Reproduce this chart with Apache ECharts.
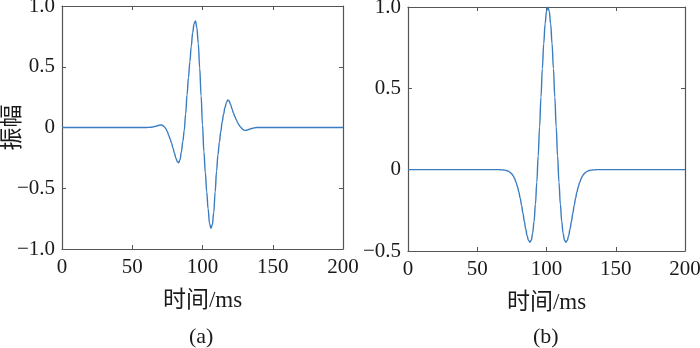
<!DOCTYPE html>
<html>
<head>
<meta charset="utf-8">
<script src="https://cdn.jsdelivr.net/npm/echarts@6/dist/echarts.min.js"></script>
<style>
  html, body { margin: 0; padding: 0; background: #fff; }
  #chart { width: 700px; height: 348px; }
</style>
</head>
<body>
<div id="chart"></div>
<script>
// (a) 子波
var timeA = [0,
  60, 61, 62, 63, 64, 65, 66, 67, 68, 69,
  70, 71, 72, 73, 74, 75, 76, 77, 78, 79,
  80, 81, 82, 83, 84, 85, 86, 87, 88, 89,
  90, 91, 92, 93, 94, 95, 96, 97, 98, 99,
  100, 101, 102, 103, 104, 105, 106, 107, 108, 109,
  110, 111, 112, 113, 114, 115, 116, 117, 118, 119,
  120, 121, 122, 123, 124, 125, 126, 127, 128, 129,
  130, 131, 132, 133, 134, 135, 136, 137, 138, 139,
  140, 200]
var ampA = [0,
  0, 0.001, 0.001, 0.002, 0.003, 0.005, 0.008, 0.011, 0.015, 0.018,
  0.020, 0.020, 0.014, 0.003, -0.012, -0.035, -0.065, -0.095, -0.130, -0.170,
  -0.210, -0.250, -0.280, -0.290, -0.265, -0.200, -0.115, -0.025, 0.110, 0.270,
  0.410, 0.540, 0.670, 0.780, 0.855, 0.876, 0.820, 0.690, 0.490, 0.260,
  0.020, -0.200, -0.370, -0.530, -0.670, -0.790, -0.830, -0.800, -0.700, -0.530,
  -0.360, -0.225, -0.120, -0.035, 0.045, 0.110, 0.165, 0.205, 0.226, 0.218,
  0.190, 0.155, 0.120, 0.090, 0.065, 0.040, 0.020, 0.005, -0.008, -0.018,
  -0.024, -0.024, -0.020, -0.016, -0.012, -0.008, -0.005, -0.003, -0.001, 0,
  0, 0]

// (b) 子波
var timeB = [0,
  66, 67, 68, 69, 70, 71, 72, 73, 74, 75,
  76, 77, 78, 79, 80, 81, 82, 83, 84, 85,
  86, 87, 88, 89, 90, 91, 92, 93, 94, 95,
  96, 97, 98, 99, 100, 101, 102, 103, 104, 105,
  106, 107, 108, 109, 110, 111, 112, 113, 114, 115,
  116, 117, 118, 119, 120, 121, 122, 123, 124, 125,
  126, 127, 128, 129, 130, 131, 132, 133, 134, 135,
  136, 200]
var ampB = [0,
  0, -0.001, -0.001, -0.002, -0.003, -0.005, -0.008, -0.012, -0.019, -0.027,
  -0.039, -0.056, -0.077, -0.103, -0.136, -0.175, -0.220, -0.268, -0.318, -0.365,
  -0.406, -0.435, -0.446, -0.434, -0.392, -0.319, -0.213, -0.077, 0.084, 0.262,
  0.446, 0.621, 0.776, 0.897, 0.974, 1.000, 0.974, 0.897, 0.776, 0.621,
  0.446, 0.262, 0.084, -0.077, -0.213, -0.319, -0.392, -0.434, -0.446, -0.435,
  -0.406, -0.365, -0.318, -0.268, -0.220, -0.175, -0.136, -0.103, -0.077, -0.056,
  -0.039, -0.027, -0.019, -0.012, -0.008, -0.005, -0.003, -0.002, -0.001, -0.001,
  0, 0]

var xTitle = '时间/ms'
var yTitle = '振幅'
var panelLabels = ['(a)', '(b)']

var FONT = '"Liberation Serif", "Times New Roman", "Noto Sans CJK SC", serif'
var AXIS_COLOR = '#555'
var TEXT_COLOR = '#1a1a1a'
var LINE_COLOR = '#3a7cc1'

function fmtY(v) {
  if (v === 0) return '0'
  return v.toFixed(1).replace('-', '\u2212')
}

function pairs(xs, ys) {
  return xs.map(function (x, i) { return [x, ys[i]] })
}

function xAxisOf(grid, main) {
  return {
    type: 'value',
    gridIndex: grid,
    position: main ? 'bottom' : 'top',
    min: 0,
    max: 200,
    interval: 50,
    name: main ? xTitle : '',
    nameLocation: 'middle',
    nameGap: 40,
    nameMoveOverlap: false,
    nameTextStyle: { fontFamily: FONT, fontSize: 23, color: TEXT_COLOR },
    axisLine: { show: true, onZero: false, lineStyle: { color: AXIS_COLOR, width: 1.2 } },
    axisTick: { show: true, inside: true, length: 4, lineStyle: { color: AXIS_COLOR } },
    axisLabel: { show: main, margin: 8, fontFamily: FONT, fontSize: 21, color: TEXT_COLOR },
    splitLine: { show: false }
  }
}

function yAxisOf(grid, main, min, name) {
  return {
    type: 'value',
    gridIndex: grid,
    position: main ? 'left' : 'right',
    min: min,
    max: 1,
    interval: 0.5,
    name: main ? name : '',
    nameLocation: 'middle',
    nameGap: 38,
    nameMoveOverlap: false,
    nameTextStyle: { fontFamily: FONT, fontSize: 23, color: TEXT_COLOR },
    axisLine: { show: true, onZero: false, lineStyle: { color: AXIS_COLOR, width: 1.2 } },
    axisTick: { show: true, inside: true, length: 4, lineStyle: { color: AXIS_COLOR } },
    axisLabel: { show: main, margin: 7, fontFamily: FONT, fontSize: 21, color: TEXT_COLOR, formatter: fmtY },
    splitLine: { show: false }
  }
}

function wave(idx, data) {
  return {
    type: 'line',
    xAxisIndex: idx * 2,
    yAxisIndex: idx * 2,
    data: data,
    showSymbol: false,
    smooth: 0.4,
    smoothMonotone: 'x',
    lineStyle: { width: 1.4, color: LINE_COLOR },
    itemStyle: { color: LINE_COLOR }
  }
}

var chart = echarts.init(document.getElementById('chart'))
chart.setOption({
  animation: false,
  backgroundColor: '#fff',
  grid: [
    { left: 62, top: 6, width: 281, height: 243, outerBoundsMode: 'none', containLabel: false },
    { left: 408, top: 7, width: 277, height: 244, outerBoundsMode: 'none', containLabel: false }
  ],
  xAxis: [xAxisOf(0, true), xAxisOf(0, false), xAxisOf(1, true), xAxisOf(1, false)],
  yAxis: [yAxisOf(0, true, -1, yTitle), yAxisOf(0, false, -1, ''),
          yAxisOf(1, true, -0.5, ''), yAxisOf(1, false, -0.5, '')],
  series: [wave(0, pairs(timeA, ampA)), wave(1, pairs(timeB, ampB))],
  graphic: [
    { type: 'text', left: 189, top: 326, style: { text: panelLabels[0], font: '22px ' + FONT, fill: TEXT_COLOR } },
    { type: 'text', left: 533, top: 326, style: { text: panelLabels[1], font: '22px ' + FONT, fill: TEXT_COLOR } }
  ]
})
</script>
</body>
</html>
